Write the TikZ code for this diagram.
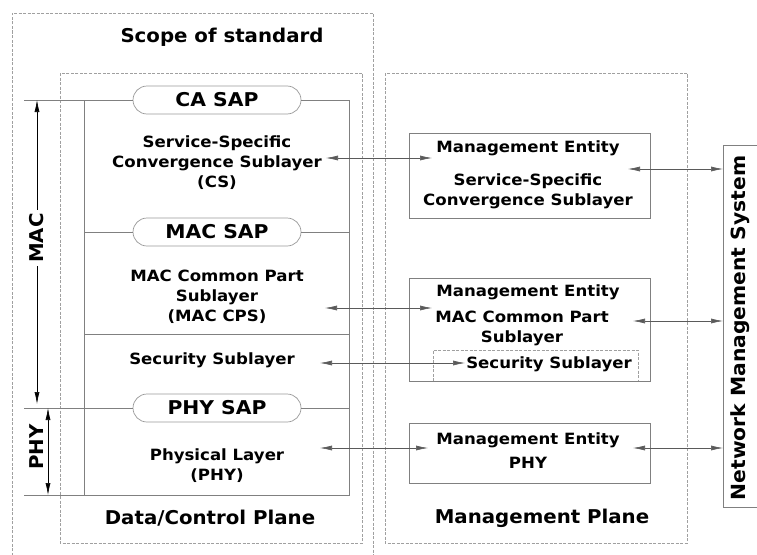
\documentclass[tikz,border=0pt]{standalone}
\usepackage{fontspec}
\setmainfont{DejaVu Sans}
\newfontfamily\wideA[FakeStretch=1.07]{DejaVu Sans}
\newfontfamily\wideB[FakeStretch=1.04]{DejaVu Sans}
\usetikzlibrary{shapes.misc,arrows.meta}
\definecolor{lgray}{RGB}{128,128,128}
\definecolor{dgray}{RGB}{90,90,90}
\begin{document}
\begin{tikzpicture}[x=1pt,y=-1pt,
  ln/.style={draw=lgray, line width=0.9pt},
  dbox/.style={draw=lgray!75, line width=0.7pt, dash pattern=on 3pt off 1.5pt},
  sap/.style={rounded rectangle, draw=lgray!80, line width=0.7pt, fill=white,
    minimum width=168pt, minimum height=28pt, inner sep=0pt,
    font=\wideA\bfseries\fontsize{19}{20}\selectfont},
  body/.style={font=\wideA\bfseries\fontsize{15.5}{20}\selectfont, align=center, inner sep=0pt},
  title/.style={font=\wideB\bfseries\fontsize{19}{22}\selectfont, inner sep=0pt},
  arr/.style={{Latex[length=12pt,width=5pt]}-{Latex[length=12pt,width=5pt]}, draw=dgray, line width=0.6pt},
  ebox/.style={draw=lgray, line width=0.9pt}
]
\clip (0,0) rectangle (757,554);
\fill[white] (0,0) rectangle (757,554);

% outer scope box (open at bottom)
\draw[dbox] (12,560) -- (12,13) -- (373,13) -- (373,560);
\node[title] (scope) at (222,37) {Scope of standard};

% plane boxes
\draw[dbox] (60,73) rectangle (362,543);
\draw[dbox] (385,73) rectangle (687,543);
\node[title] (dcp) at (210,518) {Data/Control Plane};
\node[title] (mp) at (542,518) {Management Plane};

% SAP pills
\node[sap] (ca) at (217,100) {CA SAP};
\node[sap] (macsap) at (217,232) {MAC SAP};
\node[sap] (physap) at (217,408) {PHY SAP};

% layer stack lines
\draw[ln] (24,100) -- (ca.west);
\draw[ln] (ca.east) -- (349,100) -- (349,495) -- (24,495);
\draw[ln] (84,100) -- (84,495);
\draw[ln] (84,232) -- (macsap.west);
\draw[ln] (macsap.east) -- (349,232);
\draw[ln] (84,334) -- (349,334);
\draw[ln] (24,408) -- (physap.west);
\draw[ln] (physap.east) -- (349,408);

% layer texts
\node[body] (cs) at (217,163) {Service-Specific\\Convergence Sublayer\\(CS)};
\node[body] (cps) at (217,297) {MAC Common Part\\Sublayer\\(MAC CPS)};
\node[body] (sec) at (212,360) {Security Sublayer};
\node[body] (phy) at (217,466) {Physical Layer\\(PHY)};

% MAC / PHY extents
\coordinate (macT) at (37,100);
\coordinate (macB) at (37,404);
\coordinate (phyT) at (48,408);
\coordinate (phyB) at (48,495);
\draw[arr, draw=black] (macT) -- (macB);
\draw[arr, draw=black] (phyT) -- (phyB);
\node[title, rotate=90, fill=white, inner sep=3pt] (maclbl) at (37,238) {MAC};
\node[title, rotate=90] (phylbl) at (37,447) {PHY};

% management entities
\draw[ebox] (409,133) rectangle (650,218);
\node[body] (me1t) at (528,148) {Management Entity};
\node[body] (me1s) at (528,191) {Service-Specific\\Convergence Sublayer};

\draw[ebox] (409,278) rectangle (650,381);
\node[body] (me2t) at (528,292) {Management Entity};
\node[body] (me2s) at (522,328) {MAC Common Part\\Sublayer};
\draw[dbox] (433,381) -- (433,350) -- (638,350) -- (638,381);
\node[body] (me2sec) at (549,364) {Security Sublayer};

\draw[ebox] (409,423) rectangle (650,483);
\node[body] (me3t) at (528,440) {Management Entity};
\node[body] (me3s) at (528,463) {PHY};

% network management system
\draw[ebox] (770,145) -- (723,145) -- (723,507) -- (770,507);
\node[font=\wideB\bfseries\fontsize{19.5}{22}\selectfont, rotate=90, inner sep=0pt] (nms) at (740,328) {Network Management System};

% plane arrows
\coordinate (a1l) at (326,158); \coordinate (a1r) at (432,158);
\coordinate (a2l) at (325,308); \coordinate (a2r) at (432,308);
\coordinate (a3l) at (320,363); \coordinate (a3r) at (465,363);
\coordinate (a4l) at (320,448); \coordinate (a4r) at (428,448);
\draw[arr] (a1l) -- (a1r);
\draw[arr] (a2l) -- (a2r);
\draw[arr] (a3l) -- (a3r);
\draw[arr] (a4l) -- (a4r);

% NMS arrows
\coordinate (n1l) at (628,169); \coordinate (n1r) at (723,169);
\coordinate (n2l) at (633,321); \coordinate (n2r) at (723,321);
\coordinate (n3l) at (633,448); \coordinate (n3r) at (723,448);
\draw[arr] (n1l) -- (n1r);
\draw[arr] (n2l) -- (n2r);
\draw[arr] (n3l) -- (n3r);
\end{tikzpicture}
\end{document}
